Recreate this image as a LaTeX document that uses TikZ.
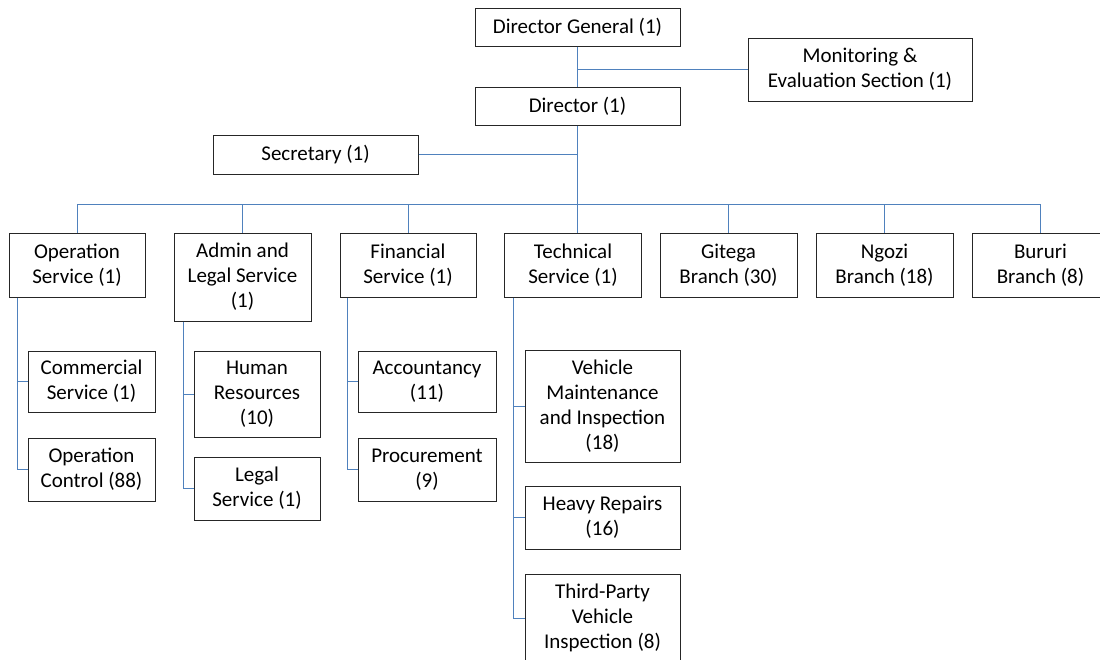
\documentclass[tikz,border=0pt]{standalone}
\usepackage{fontspec}
\setmainfont{Carlito}
\definecolor{linkblue}{RGB}{79,129,189}

\begin{document}
\begin{tikzpicture}
[
	x=1pt, y=-1pt,
	box/.style={rectangle,draw=black!85,line width=1pt,align=center,inner sep=0pt,
		font=\fontsize{21}{25}\selectfont},
	link/.style={draw=linkblue,line width=1pt}
]

	\clip (0,0) rectangle (1100,659);

	% top of the chart
	\node[box,minimum width=205,minimum height=38] (dg) at (577.5,27) {Director General (1)};
	\node[box,minimum width=224,minimum height=63] (me) at (860,69.5) {Monitoring \&\\Evaluation Section (1)};
	\node[box,minimum width=205,minimum height=38] (dir) at (577.5,106) {Director (1)};
	\node[box,minimum width=205,minimum height=39] (sec) at (315.5,154.5) {Secretary (1)};

	% services and branches
	\node[box,minimum width=136,minimum height=64] (ops) at (77,265) {Operation\\Service (1)};
	\node[box,minimum width=137,minimum height=88] (adm) at (242.5,277) {Admin and\\Legal Service\\(1)};
	\node[box,minimum width=136,minimum height=64] (fin) at (408,265) {Financial\\Service (1)};
	\node[box,minimum width=137,minimum height=64] (tec) at (573,265) {Technical\\Service (1)};
	\node[box,minimum width=137,minimum height=64] (git) at (728.5,265) {Gitega\\Branch (30)};
	\node[box,minimum width=137,minimum height=64] (ngo) at (884.5,265) {Ngozi\\Branch (18)};
	\node[box,minimum width=137,minimum height=64] (bur) at (1040.5,265) {Bururi\\Branch (8)};

	% sections
	\node[box,minimum width=127,minimum height=61] (com) at (91.5,381.5) {Commercial\\Service (1)};
	\node[box,minimum width=127,minimum height=63] (opc) at (91.5,469.5) {Operation\\Control (88)};
	\node[box,minimum width=126,minimum height=86] (hr) at (257,394) {Human\\Resources\\(10)};
	\node[box,minimum width=126,minimum height=63] (leg) at (257,488.5) {Legal\\Service (1)};
	\node[box,minimum width=138,minimum height=61] (acc) at (427,381.5) {Accountancy\\(11)};
	\node[box,minimum width=138,minimum height=63] (pro) at (427,469.5) {Procurement\\(9)};
	\node[box,minimum width=155,minimum height=112] (vmi) at (602.5,406) {Vehicle\\Maintenance\\and Inspection\\(18)};
	\node[box,minimum width=155,minimum height=63] (hvy) at (602.5,517.5) {Heavy Repairs\\(16)};
	\node[box,minimum width=155,minimum height=88] (tpv) at (602.5,618) {Third-Party\\Vehicle\\Inspection (8)};

	% connectors, top
	\draw[link] (dg.south) -- (dir.north);
	\draw[link] (me.west) -- (me.west -| dg.south);
	\coordinate (bus) at (577.5,204);
	\draw[link] (dir.south) -- (bus);
	\draw[link] (sec.east) -- (sec.east -| bus);

	% bus to services and branches
	\draw[link] (ops.north) |- (bus);
	\draw[link] (bur.north) |- (bus);
	\foreach \n in {adm,fin,git,ngo} {
		\draw[link] (\n.north) -- (\n.north |- bus);
	}
	\draw[link] (bus) -- (bus |- tec.north);

	% side rails
	\coordinate (opsx) at ([xshift=9pt]ops.south west);
	\draw[link] (opsx) |- (opc.west);
	\draw[link] (com.west) -- (com.west -| opsx);

	\coordinate (admx) at ([xshift=10pt]adm.south west);
	\draw[link] (admx) |- (leg.west);
	\draw[link] (hr.west) -- (hr.west -| admx);

	\coordinate (finx) at ([xshift=8pt]fin.south west);
	\draw[link] (finx) |- (pro.west);
	\draw[link] (acc.west) -- (acc.west -| finx);

	\coordinate (tecx) at ([xshift=9pt]tec.south west);
	\draw[link] (tecx) |- (tpv.west);
	\draw[link] (vmi.west) -- (vmi.west -| tecx);
	\draw[link] (hvy.west) -- (hvy.west -| tecx);

\end{tikzpicture}
\end{document}
